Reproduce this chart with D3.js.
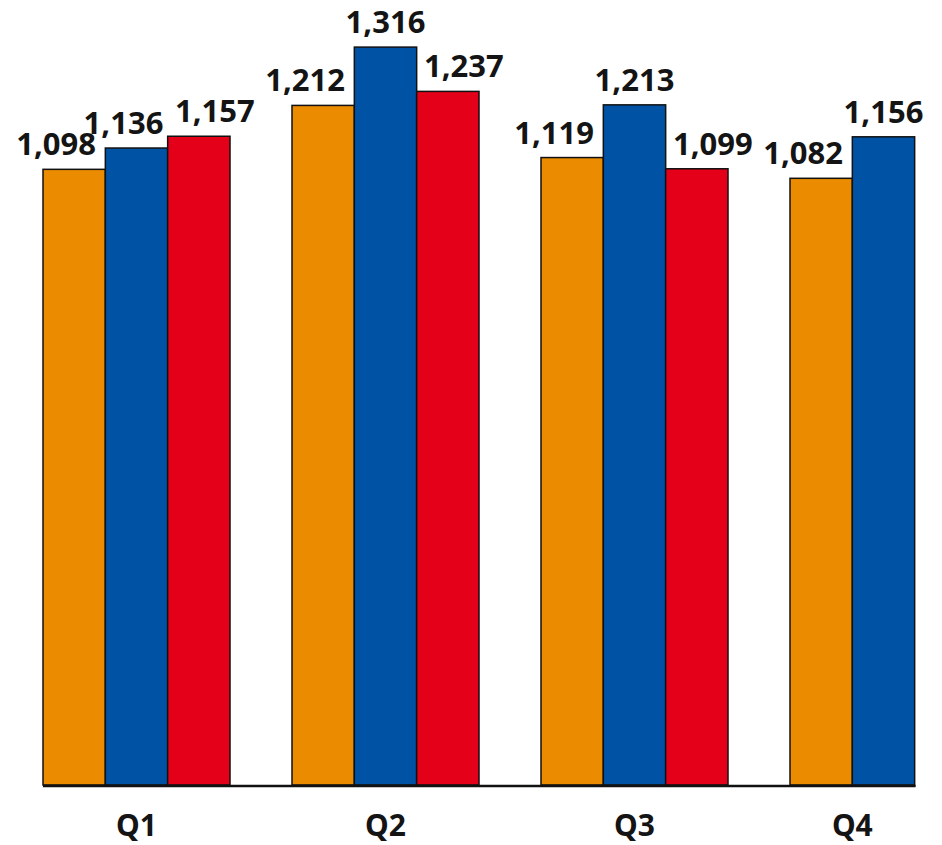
<!DOCTYPE html>
<html>
<head>
<meta charset="utf-8">
<script src="https://cdn.jsdelivr.net/npm/d3@7"></script>
<style>
  html, body { margin: 0; padding: 0; background: #fff; }
  svg text { font-family: "Noto Sans", "Liberation Sans", sans-serif; font-weight: bold; fill: #141414; }
</style>
</head>
<body>
<div id="chart"></div>
<script>
// values
var categories = ["Q1", "Q2", "Q3", "Q4"];
var seriesOrange = [1098, 1212, 1119, 1082];
var seriesBlue = [1136, 1316, 1213, 1156];
var seriesRed = [1157, 1237, 1099, null];
var colors = ["#ea8b00", "#0052a5", "#e5001a"];

var width = 942;
var height = 845;
var baseY = 785;

var svg = d3.select('#chart')
  .append('svg')
  .attr('width', width)
  .attr('height', height);

var series = [seriesOrange, seriesBlue, seriesRed];

var x0 = d3.scaleBand()
  .domain(categories)
  .range([43, 977])
  .paddingInner(62 / 249)
  .paddingOuter(0);

var x1 = d3.scaleBand()
  .domain([0, 1, 2])
  .range([0, x0.bandwidth()]);

var y = d3.scaleLinear()
  .domain([0, 1400])
  .range([baseY, 0]);

var fmt = d3.format(',');

categories.forEach(function(cat, ci) {
  var vals = series.map(function(s) { return s[ci]; });
  var present = vals.filter(function(v) { return v != null; }).length;

  var g = svg.append('g')
    .attr('transform', 'translate(' + x0(cat) + ',0)');

  vals.forEach(function(v, si) {
    if (v == null) return;
    g.append('rect')
      .attr('x', x1(si))
      .attr('y', y(v))
      .attr('width', x1.bandwidth())
      .attr('height', baseY - y(v))
      .attr('fill', colors[si])
      .attr('stroke', '#111')
      .attr('stroke-width', 1.5);
  });

  vals.forEach(function(v, si) {
    if (v == null) return;
    // labels pushed sideways so they don't collide
    var dx = 0;
    if (si === 0) dx = -18;
    else if (si === 2) dx = 16;
    else if (vals[si + 1] != null && vals[si + 1] > v) dx = -13;
    g.append('text')
      .attr('x', x1(si) + x1.bandwidth() / 2 + dx)
      .attr('y', y(v) - 14)
      .attr('text-anchor', 'middle')
      .style('font-size', '31px')
      .text(fmt(v));
  });

  g.append('text')
    .attr('x', x1.bandwidth() * present / 2)
    .attr('y', 836)
    .attr('text-anchor', 'middle')
    .style('font-size', '30px')
    .text(cat);
});

// baseline only as long as the bars
var last = categories[categories.length - 1];
var lastCount = series.filter(function(s) { return s[categories.length - 1] != null; }).length;
svg.append('line')
  .attr('x1', x0.range()[0])
  .attr('x2', x0(last) + x1.bandwidth() * lastCount + 1)
  .attr('y1', baseY + 1)
  .attr('y2', baseY + 1)
  .attr('stroke', '#111')
  .attr('stroke-width', 2.5);
</script>
</body>
</html>
